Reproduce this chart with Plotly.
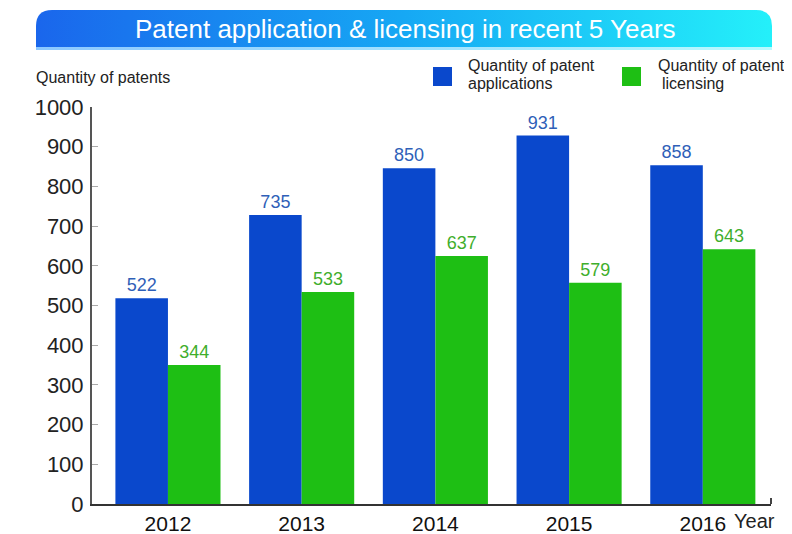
import base64
import plotly.graph_objects as go

# ---- data ----
years = ["2012", "2013", "2014", "2015", "2016"]
applications = [518, 728, 846, 928, 853]          # bar heights
licensing = [350, 534, 625, 557, 642]
application_labels = ["522", "735", "850", "931", "858"]   # printed labels
licensing_labels = ["344", "533", "637", "579", "643"]
y_ticks = [0, 100, 200, 300, 400, 500, 600, 700, 800, 900, 1000]

BLUE = "#0a48cc"
GREEN = "#1ebf14"
FONT = "Liberation Sans, Arial, sans-serif"

xpos = list(range(len(years)))

fig = go.Figure()
fig.add_trace(go.Bar(
    x=xpos, y=applications, name="Quantity of patent applications",
    marker=dict(color=BLUE, line=dict(width=0)),
    text=application_labels, textposition="outside", constraintext="none",
    textfont=dict(family=FONT, size=18, color="#2f5fb8"), cliponaxis=False,
))
fig.add_trace(go.Bar(
    x=xpos, y=licensing, name="Quantity of patent licensing",
    marker=dict(color=GREEN, line=dict(width=0)),
    text=licensing_labels, textposition="outside", constraintext="none",
    textfont=dict(family=FONT, size=18, color="#3fae2c"), cliponaxis=False,
))

# banner gradient via SVG image
svg = (
    '<svg xmlns="http://www.w3.org/2000/svg" width="736" height="40" viewBox="0 0 736 40" preserveAspectRatio="none">'
    '<defs><linearGradient id="g" x1="0" y1="0" x2="1" y2="0">'
    '<stop offset="0" stop-color="#1a66ec"/>'
    '<stop offset="0.5" stop-color="#16a8f4"/>'
    '<stop offset="1" stop-color="#24f0fa"/>'
    '</linearGradient>'
    '<linearGradient id="h" x1="0" y1="0" x2="1" y2="0">'
    '<stop offset="0" stop-color="#8cc8ff"/>'
    '<stop offset="1" stop-color="#b8fbff"/>'
    '</linearGradient></defs>'
    '<path d="M0,40 L0,16 Q0,0 16,0 L720,0 Q736,0 736,16 L736,40 Z" fill="url(#g)"/>'
    '<rect x="0" y="37" width="736" height="3" fill="url(#h)"/>'
    '</svg>'
)
src = "data:image/svg+xml;base64," + base64.b64encode(svg.encode()).decode()

# page (viewport) pixel geometry; the page body adds an 8px margin
OFF = 8
W0, W1, H0, H1 = 92, 771, 107, 504
FIG_W, FIG_H = 792 - OFF, 534 - OFF


def px(x):
    return (x - W0) / (W1 - W0)


def py(y):
    return (H1 - y) / (H1 - H0)


fig.add_layout_image(dict(
    source=src, xref="paper", yref="paper",
    x=px(36), y=py(10), sizex=px(772) - px(36), sizey=py(10) - py(50),
    xanchor="left", yanchor="top", sizing="stretch", layer="below",
))

txt = dict(color="#222")
annotations = [
    dict(text="Patent application & licensing in recent 5 Years", x=px(405), y=py(29),
         xref="paper", yref="paper", showarrow=False, xanchor="center", yanchor="middle",
         font=dict(family=FONT, size=26, color="white")),
    dict(text="Quantity of patents", x=px(34), y=py(78), xref="paper", yref="paper",
         showarrow=False, xanchor="left", yanchor="middle",
         font=dict(family=FONT, size=16, **txt)),
    dict(text="Year", x=px(732), y=py(521), xref="paper", yref="paper",
         showarrow=False, xanchor="left", yanchor="middle",
         font=dict(family=FONT, size=20, **txt)),
    dict(text="Quantity of patent", x=px(466), y=py(65), xref="paper", yref="paper",
         showarrow=False, xanchor="left", yanchor="middle",
         font=dict(family=FONT, size=16, **txt)),
    dict(text="applications", x=px(466), y=py(84), xref="paper", yref="paper",
         showarrow=False, xanchor="left", yanchor="middle",
         font=dict(family=FONT, size=16, **txt)),
    dict(text="Quantity of patent", x=px(656), y=py(65), xref="paper", yref="paper",
         showarrow=False, xanchor="left", yanchor="middle",
         font=dict(family=FONT, size=16, **txt)),
    dict(text="licensing", x=px(660), y=py(84), xref="paper", yref="paper",
         showarrow=False, xanchor="left", yanchor="middle",
         font=dict(family=FONT, size=16, **txt)),
]

shapes = [
    dict(type="rect", xref="paper", yref="paper", x0=px(433), x1=px(452), y0=py(86), y1=py(67),
         fillcolor=BLUE, line=dict(width=0)),
    dict(type="rect", xref="paper", yref="paper", x0=px(622), x1=px(641), y0=py(86), y1=py(67),
         fillcolor=GREEN, line=dict(width=0)),
    # small end tick on x axis
    dict(type="line", xref="paper", yref="paper", x0=1, x1=1, y0=0, y1=py(498),
         line=dict(color="#444", width=2)),
]

fig.update_layout(
    width=FIG_W, height=FIG_H,
    margin=dict(l=W0 - OFF, r=FIG_W - (W1 - OFF), t=H0 - OFF, b=FIG_H - (H1 - OFF), autoexpand=False),
    paper_bgcolor="white", plot_bgcolor="white",
    barmode="group", bargap=0.214, bargroupgap=0,
    showlegend=False,
    annotations=annotations, shapes=shapes,
    font=dict(family=FONT),
    xaxis=dict(
        range=[-0.568, 4.51], tickvals=xpos, ticktext=years, automargin=False,
        showline=True, linecolor="#333", linewidth=2, ticks="", showgrid=False, zeroline=False,
        tickfont=dict(family=FONT, size=21, color="#111"),
    ),
    yaxis=dict(
        range=[0, 1000], tickvals=y_ticks, showline=True, linecolor="#555", linewidth=2,
        ticks="inside", ticklen=6, tickcolor="#aaa", tickwidth=1, automargin=False,
        showgrid=False, zeroline=False, ticklabelstandoff=2,
        tickfont=dict(family=FONT, size=22, color="#222"),
    ),
)

fig.write_html("out.html")
